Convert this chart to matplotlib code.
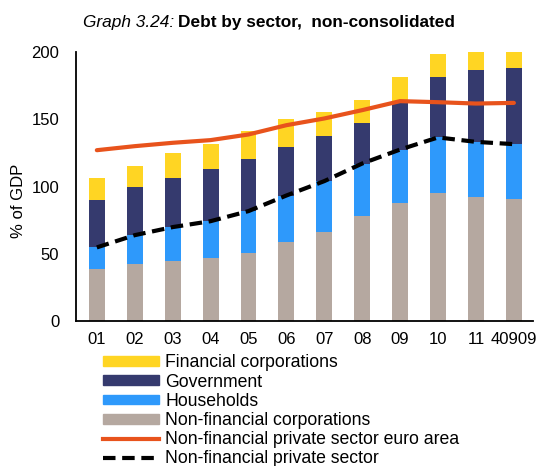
import numpy as np
import matplotlib
matplotlib.use("Agg")
import matplotlib.pyplot as plt
from matplotlib.patches import Patch
from matplotlib.lines import Line2D

plt.rcParams['font.family'] = ['Liberation Sans', 'DejaVu Sans']

# DATOS
years = ["01", "02", "03", "04", "05", "06", "07", "08", "09", "10", "11", "40909"]
nfc = [38.7, 42.4, 44.4, 46.6, 50.6, 59.0, 65.9, 78.1, 87.7, 94.9, 92.4, 90.7]
households = [16.1, 21.5, 25.5, 27.7, 31.2, 34.4, 38.2, 39.1, 39.9, 41.7, 40.9, 40.9]
government = [35.4, 35.7, 36.2, 38.5, 38.6, 36.0, 33.2, 29.8, 34.7, 45.1, 53.3, 56.5]
financial = [16.4, 15.9, 18.8, 18.8, 20.9, 20.8, 18.1, 17.1, 19.4, 17.1, 17.0, 16.0]
euro_area = [127.1, 130.1, 132.6, 134.6, 138.8, 145.7, 150.7, 156.9, 163.6, 162.8, 161.8, 162.3]
private_sector = [54.8, 63.9, 69.9, 74.3, 81.8, 93.4, 104.1, 117.2, 127.6, 136.6, 133.3, 131.6]

c_fin = '#FFD523'
c_gov = '#353A6E'
c_hh = '#2E99FB'
c_nfc = '#B5A8A0'
c_ea = '#E8531C'

x = np.arange(len(years))
w = 0.42

fig = plt.figure(figsize=(5.4, 4.66), dpi=100)
ax = fig.add_axes([0.1407, 0.311, 0.846, 0.577])

b1 = np.array(nfc)
b2 = b1 + np.array(households)
b3 = b2 + np.array(government)
ax.bar(x, nfc, w, color=c_nfc)
ax.bar(x, households, w, bottom=b1, color=c_hh)
ax.bar(x, government, w, bottom=b2, color=c_gov)
ax.bar(x, financial, w, bottom=b3, color=c_fin)

ax.plot(x, euro_area, color=c_ea, lw=3, solid_capstyle='round')
ax.plot(x, private_sector, color='black', lw=3, dashes=(3, 1.6))

ax.set_ylim(0, 200)
ax.set_xlim(-0.55, 11.5)
ax.set_yticks([0, 50, 100, 150, 200])
ax.set_xticks(x)
ax.set_xticklabels(years)
ax.tick_params(length=0, labelsize=12)
ax.tick_params(axis='y', pad=12)
ax.tick_params(axis='x', pad=8)
for s in ['top', 'right']:
    ax.spines[s].set_visible(False)
for s in ['left', 'bottom']:
    ax.spines[s].set_linewidth(1.3)
fig.text(19/540, 1 - 201/466, "% of GDP", fontsize=12, rotation=90, ha='center', va='center')

# Titulo
t1 = fig.text(83/540, 0.951, "Graph 3.24:", fontsize=12.4, style='italic', ha='left', va='center')
renderer = fig.canvas.get_renderer()
bb = t1.get_window_extent(renderer)
fig.text((bb.x1 + 4) / 540, 0.951, "Debt by sector,  non-consolidated", fontsize=12.4,
         weight='bold', ha='left', va='center')

handles = [
    Patch(color=c_fin), Patch(color=c_gov), Patch(color=c_hh), Patch(color=c_nfc),
    Line2D([], [], color=c_ea, lw=3),
    Line2D([], [], color='black', lw=3, dashes=(3, 1.6)),
]
labels = ["Financial corporations", "Government", "Households", "Non-financial corporations",
          "Non-financial private sector euro area", "Non-financial private sector"]
fig.legend(handles, labels, loc='upper left', bbox_to_anchor=(0.19, 0.2395), frameon=False,
           fontsize=12.7, handlelength=3.2, handleheight=0.47, labelspacing=0.125,
           handletextpad=0.34, borderaxespad=0, borderpad=0)

fig.savefig("out.png", dpi=100)
